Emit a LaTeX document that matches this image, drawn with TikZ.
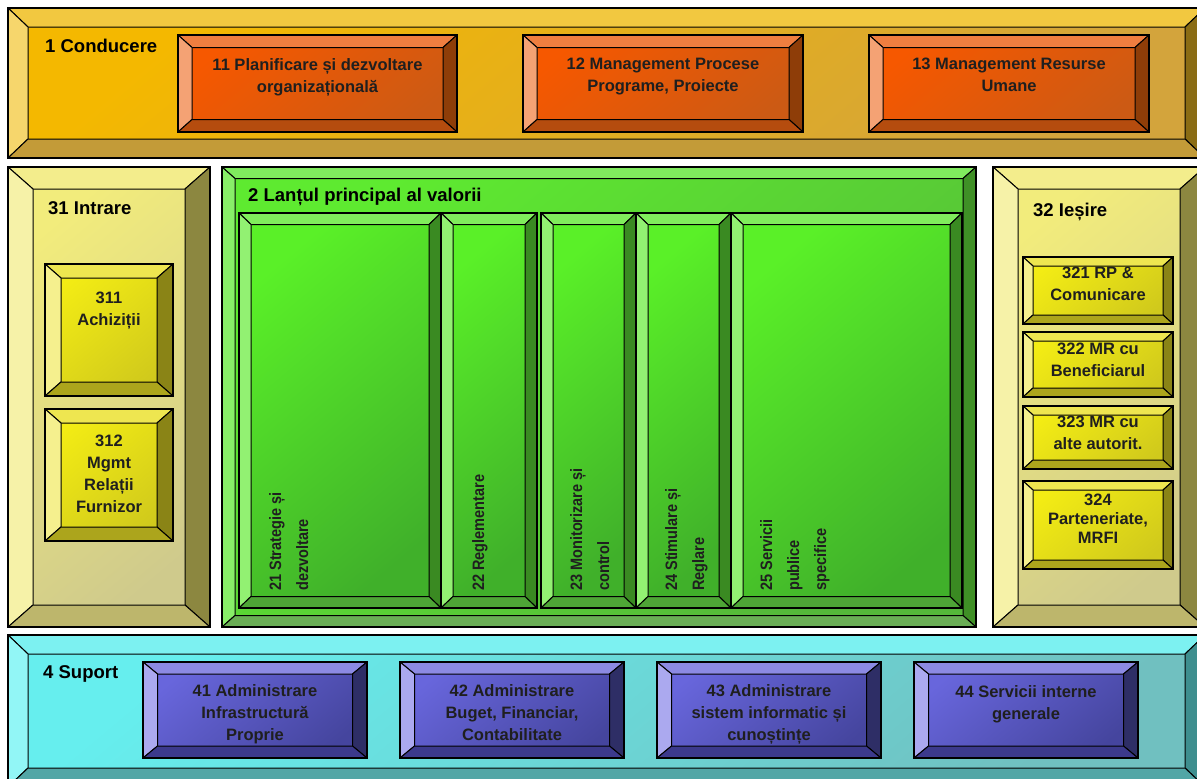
\documentclass[tikz,border=0pt]{standalone}
\usepackage{fontspec}
\setmainfont{Liberation Sans}
\newfontfamily\narrowfont{Liberation Sans}[FakeStretch=0.88]
\usepackage{tikz}
\usetikzlibrary{positioning,calc}

\definecolor{goldA}{HTML}{F4B800}
\definecolor{goldB}{HTML}{D3A43C}
\definecolor{goldT}{HTML}{F2C840}
\definecolor{goldL}{HTML}{F6D66C}
\definecolor{goldR}{HTML}{8A6C14}
\definecolor{goldD}{HTML}{C39B38}
\definecolor{orA}{HTML}{F65800}
\definecolor{orB}{HTML}{CC5A14}
\definecolor{orT}{HTML}{EF7E40}
\definecolor{orL}{HTML}{F4A274}
\definecolor{orR}{HTML}{8E3D08}
\definecolor{orD}{HTML}{B54C0E}
\definecolor{paA}{HTML}{F2EC7C}
\definecolor{paB}{HTML}{CFCA8C}
\definecolor{paT}{HTML}{F3ED8C}
\definecolor{paL}{HTML}{F6F2A8}
\definecolor{paR}{HTML}{8C8740}
\definecolor{paD}{HTML}{BDB66C}
\definecolor{yeA}{HTML}{F3EC14}
\definecolor{yeB}{HTML}{D0C91C}
\definecolor{yeT}{HTML}{EEE650}
\definecolor{yeL}{HTML}{F5F08E}
\definecolor{yeR}{HTML}{8A8416}
\definecolor{yeD}{HTML}{ACA51C}
\definecolor{grA}{HTML}{5EEA30}
\definecolor{grB}{HTML}{55B83A}
\definecolor{grT}{HTML}{80EB5E}
\definecolor{grL}{HTML}{88EE68}
\definecolor{grR}{HTML}{3F9026}
\definecolor{grD}{HTML}{6AAE55}
\definecolor{gcA}{HTML}{5AF028}
\definecolor{gcB}{HTML}{40B02A}
\definecolor{gcT}{HTML}{80EC5C}
\definecolor{gcL}{HTML}{92F172}
\definecolor{gcR}{HTML}{3A8A22}
\definecolor{gcD}{HTML}{4EA536}
\definecolor{cyA}{HTML}{66EEEE}
\definecolor{cyB}{HTML}{70C0C0}
\definecolor{cyT}{HTML}{7CF1F1}
\definecolor{cyL}{HTML}{92F6F6}
\definecolor{cyR}{HTML}{3E8E8E}
\definecolor{cyD}{HTML}{52A6A6}
\definecolor{puA}{HTML}{6866DC}
\definecolor{puB}{HTML}{45459E}
\definecolor{puT}{HTML}{8C8AE3}
\definecolor{puL}{HTML}{ABA9EF}
\definecolor{puR}{HTML}{2E2E66}
\definecolor{puD}{HTML}{3C3A8C}

\tikzset{
  bv top/.store in=\bvtop, bv left/.store in=\bvleft,
  bv right/.store in=\bvright, bv bot/.store in=\bvbot,
  bv x/.store in=\bvx, bv y/.store in=\bvy,
  bevel/.style={draw=black, line width=1.2pt, inner sep=0pt, outer sep=0pt,
    path picture={
      \path (path picture bounding box.north west) coordinate (pp1)
            ++(\bvx pt,-\bvy pt) coordinate (qq1)
            (path picture bounding box.south east) coordinate (pp2)
            ++(-\bvx pt,\bvy pt) coordinate (qq2);
      \filldraw[draw=black, line width=1pt, fill=\bvtop] (pp1) -- (pp1 -| pp2) -- (qq1 -| qq2) -- (qq1) -- cycle;
      \filldraw[draw=black, line width=1pt, fill=\bvleft] (pp1) -- (qq1) -- (qq1 |- qq2) -- (pp1 |- pp2) -- cycle;
      \filldraw[draw=black, line width=1pt, fill=\bvright] (pp1 -| pp2) -- (pp2) -- (qq2) -- (qq1 -| qq2) -- cycle;
      \filldraw[draw=black, line width=1pt, fill=\bvbot] (pp1 |- pp2) -- (pp2) -- (qq2) -- (qq1 |- qq2) -- cycle;
    }},
  goldband/.style={bevel, top color=goldA, bottom color=goldB, shading angle=40,
    bv top=goldT, bv left=goldL, bv right=goldR, bv bot=goldD, bv x=20, bv y=19},
  orangebox/.style={bevel, top color=orA, bottom color=orB, shading angle=40,
    bv top=orT, bv left=orL, bv right=orR, bv bot=orD, bv x=14, bv y=12.5},
  palepanel/.style={bevel, top color=paA, bottom color=paB, shading angle=40,
    bv top=paT, bv left=paL, bv right=paR, bv bot=paD, bv x=25, bv y=22},
  yellowbox/.style={bevel, top color=yeA, bottom color=yeB, shading angle=40,
    bv top=yeT, bv left=yeL, bv right=yeR, bv bot=yeD, bv x=16, bv y=14},
  yellowtab/.style={yellowbox, bv x=10, bv y=9},
  greenpanel/.style={bevel, top color=grA, bottom color=grB, shading angle=40,
    bv top=grT, bv left=grL, bv right=grR, bv bot=grD, bv x=13, bv y=11.5},
  greencol/.style={bevel, top color=gcA, bottom color=gcB, shading angle=40,
    bv top=gcT, bv left=gcL, bv right=gcR, bv bot=gcD, bv x=12, bv y=11.5},
  cyanband/.style={bevel, top color=cyA, bottom color=cyB, shading angle=40,
    bv top=cyT, bv left=cyL, bv right=cyR, bv bot=cyD, bv x=20, bv y=19},
  purplebox/.style={bevel, top color=puA, bottom color=puB, shading angle=40,
    bv top=puT, bv left=puL, bv right=puR, bv bot=puD, bv x=14.5, bv y=12},
  title/.style={anchor=base west, inner sep=0pt, font=\fontsize{18.5}{22}\selectfont\bfseries},
  boxtext/.style={align=center, inner sep=0pt, outer sep=0pt, text=black!88, font=\fontsize{16.5}{22}\selectfont\bfseries},
  vtext/.style={rotate=90, anchor=north west, align=left, inner sep=0pt, text=black!88, font=\narrowfont\fontsize{16.5}{27}\selectfont\bfseries}
}

\begin{document}
\begin{tikzpicture}[x=1pt,y=-1pt]
\path[use as bounding box, clip] (0,0) rectangle (1197,779);
\fill[white] (0,0) rectangle (1197,779);

% 1 Conducere
\node[goldband, minimum width=1197pt, minimum height=150pt] (b1) at (606.5,83) {};
\node[orangebox, minimum width=279pt, minimum height=97pt] (b11) at (317.5,83.5) {};
\node[orangebox, minimum width=280pt, minimum height=97pt] (b12) at (663,83.5) {};
\node[orangebox, minimum width=280pt, minimum height=97pt] (b13) at (1009,83.5) {};
\node[title] (t1) at (45,52) {1 Conducere};
\node[boxtext, below=24pt of b11.north] (t11) {11 Planificare și dezvoltare\\organizațională};
\node[boxtext, below=23pt of b12.north] (t12) {12 Management Procese\\Programe, Proiecte};
\node[boxtext, below=23pt of b13.north] (t13) {13 Management Resurse\\Umane};

% 31 Intrare
\node[palepanel, minimum width=202pt, minimum height=460pt] (p31) at (109,397) {};
\node[yellowbox, minimum width=128pt, minimum height=132pt] (b311) at (109,330) {};
\node[yellowbox, minimum width=128pt, minimum height=132pt] (b312) at (109,475) {};
\node[title] (t31) at (48,214) {31 Intrare};
\node[boxtext, below=28pt of b311.north] (t311) {311\\Achiziții};
\node[boxtext, below=26pt of b312.north] (t312) {312\\Mgmt\\Relații\\Furnizor};

% 2 Lantul principal
\node[greenpanel, minimum width=754pt, minimum height=460pt] (p2) at (599,397) {};
\node[greencol, minimum width=202pt, minimum height=395pt] (c21) at (340,410.5) {};
\node[greencol, minimum width=96pt, minimum height=395pt] (c22) at (489,410.5) {};
\node[greencol, minimum width=95pt, minimum height=395pt] (c23) at (588.5,410.5) {};
\node[greencol, minimum width=95pt, minimum height=395pt] (c24) at (683.5,410.5) {};
\node[greencol, minimum width=231pt, minimum height=395pt] (c25) at (846.5,410.5) {};
\node[title] (t2) at (248,201) {2 Lanțul principal al valorii};
\node[vtext] (t21) at ($(c21.south west)+(30,-17)$) {21 Strategie și\\dezvoltare};
\node[vtext] (t22) at ($(c22.south west)+(31,-17)$) {22 Reglementare};
\node[vtext] (t23) at ($(c23.south west)+(29,-17)$) {23 Monitorizare și\\control};
\node[vtext] (t24) at ($(c24.south west)+(29,-17)$) {24 Stimulare și\\Reglare};
\node[vtext] (t25) at ($(c25.south west)+(29,-17)$) {25 Servicii\\publice\\specifice};

% 32 Iesire
\node[palepanel, minimum width=212pt, minimum height=460pt] (p32) at (1099,397) {};
\node[yellowtab, minimum width=150pt, minimum height=67pt] (b321) at (1098,290.5) {};
\node[yellowtab, minimum width=150pt, minimum height=65pt] (b322) at (1098,364.5) {};
\node[yellowtab, minimum width=150pt, minimum height=63pt] (b323) at (1098,437.5) {};
\node[yellowtab, minimum width=150pt, minimum height=88pt] (b324) at (1098,525) {};
\node[title] (t32) at (1033,216) {32 Ieșire};
\node[boxtext, below=10pt of b321.north] (t321) {321 RP \&\\Comunicare};
\node[boxtext, below=11pt of b322.north] (t322) {322 MR cu\\Beneficiarul};
\node[boxtext, below=10pt of b323.north] (t323) {323 MR cu\\alte autorit.};
\node[boxtext, below=13pt of b324.north, font=\fontsize{16.5}{19}\selectfont\bfseries] (t324) {324\\Parteneriate,\\MRFI};

% 4 Suport
\node[cyanband, minimum width=1197pt, minimum height=152pt] (b4) at (606.5,711) {};
\node[purplebox, minimum width=224pt, minimum height=96pt] (b41) at (255,710) {};
\node[purplebox, minimum width=224pt, minimum height=96pt] (b42) at (512,710) {};
\node[purplebox, minimum width=224pt, minimum height=96pt] (b43) at (769,710) {};
\node[purplebox, minimum width=224pt, minimum height=96pt] (b44) at (1026,710) {};
\node[title] (t4) at (43,678) {4 Suport};
\node[boxtext, below=23pt of b41.north] (t41) {41 Administrare\\Infrastructură\\Proprie};
\node[boxtext, below=23pt of b42.north] (t42) {42 Administrare\\Buget, Financiar,\\Contabilitate};
\node[boxtext, below=23pt of b43.north] (t43) {43 Administrare\\sistem informatic și\\cunoștințe};
\node[boxtext, below=24pt of b44.north] (t44) {44 Servicii interne\\generale};
\end{tikzpicture}
\end{document}
